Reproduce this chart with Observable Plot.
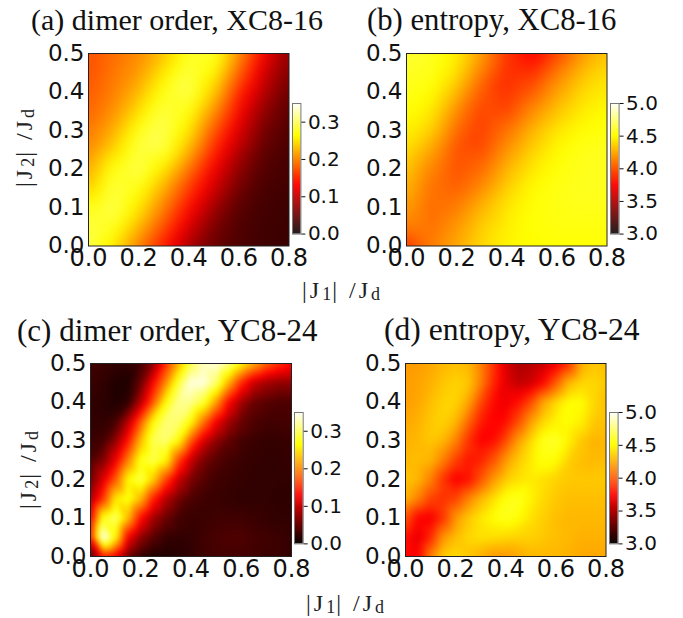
<!DOCTYPE html>
<html><head><meta charset="utf-8">
<script src="https://cdn.jsdelivr.net/npm/d3@7"></script>
<script src="https://cdn.jsdelivr.net/npm/@observablehq/plot@0.6"></script>
<style>
html,body{margin:0;padding:0;background:#fff;}
#page{position:relative;width:683px;height:618px;overflow:hidden;}
#page>svg{position:absolute;}
.title{position:absolute;font-family:"Liberation Serif",serif;color:#111;white-space:nowrap;line-height:1;}
.lab{position:absolute;font-family:"Liberation Serif",serif;font-size:24px;letter-spacing:3px;color:#222;white-space:nowrap;line-height:1;}
.lab sub{font-size:18px;vertical-align:baseline;position:relative;top:2px;letter-spacing:1px;}
.rot{transform-origin:left top;transform:rotate(-90deg);}
</style></head><body><div id="page"></div>
<script>
const xCoarse=[0,.1,.2,.3,.4,.5,.6,.7,.8];
const xFine=[0,.05,.1,.15,.2,.25,.3,.35,.4,.45,.5,.55,.6,.65,.7,.75,.8];
const yValues=[.5,.45,.4,.35,.3,.25,.2,.15,.1,.05,0];
const xTicks=[0,.2,.4,.6,.8];
const yTicks=[0,.1,.2,.3,.4,.5];
const dimerTicks=[0,.1,.2,.3];
const entropyTicks=[3,3.5,4,4.5,5];
const dimerXC=[
[.17,.185,.2,.23,.275,.28,.205,.128,.07],
[.17,.19,.21,.25,.285,.26,.18,.105,.06],
[.175,.195,.225,.27,.29,.235,.15,.09,.05],
[.18,.205,.245,.285,.27,.205,.13,.07,.04],
[.19,.22,.27,.29,.25,.175,.11,.055,.035],
[.2,.24,.285,.285,.225,.15,.09,.045,.032],
[.215,.27,.29,.25,.19,.125,.07,.038,.03],
[.235,.285,.27,.22,.16,.105,.055,.032,.028],
[.27,.29,.25,.195,.135,.08,.042,.03,.026],
[.285,.275,.225,.17,.11,.06,.036,.028,.025],
[.29,.25,.195,.14,.085,.05,.035,.028,.024]];
const entropyXC=[
[4.6,4.56,4.45,4.2,3.88,3.7,3.93,4.18,4.32],
[4.56,4.54,4.4,4.1,3.86,3.86,4.1,4.3,4.4],
[4.54,4.49,4.28,3.99,3.86,4.0,4.22,4.38,4.44],
[4.51,4.43,4.15,3.93,3.93,4.15,4.32,4.44,4.49],
[4.46,4.35,4.05,3.91,4.07,4.27,4.42,4.5,4.52],
[4.4,4.22,3.97,3.95,4.17,4.35,4.48,4.54,4.55],
[4.33,4.12,3.96,4.05,4.27,4.42,4.51,4.55,4.55],
[4.27,4.06,4.01,4.15,4.35,4.48,4.53,4.55,4.55],
[4.2,4.04,4.1,4.27,4.42,4.5,4.53,4.54,4.54],
[4.1,4.06,4.18,4.35,4.45,4.5,4.52,4.52,4.52],
[3.85,4.1,4.24,4.38,4.46,4.49,4.5,4.5,4.5]];
const dimerYC=[
[.03,.025,.02,.02,.03,.07,.15,.22,.29,.33,.34,.31,.26,.22,.18,.155,.13],
[.025,.02,.012,.01,.05,.13,.2,.28,.34,.34,.3,.22,.15,.1,.08,.07,.07],
[.02,.018,.012,.02,.09,.175,.26,.31,.31,.28,.21,.13,.08,.05,.04,.035,.035],
[.02,.02,.03,.09,.175,.26,.3,.3,.26,.19,.125,.08,.05,.035,.03,.03,.03],
[.025,.03,.07,.14,.225,.29,.3,.26,.175,.11,.07,.045,.03,.025,.022,.022,.025],
[.035,.06,.12,.195,.27,.29,.26,.165,.1,.06,.04,.03,.025,.022,.02,.02,.022],
[.05,.11,.175,.26,.29,.235,.165,.1,.06,.04,.028,.025,.022,.02,.02,.02,.02],
[.08,.155,.25,.27,.225,.145,.09,.055,.035,.028,.025,.022,.02,.02,.02,.018,.018],
[.12,.27,.3,.225,.135,.08,.05,.03,.025,.025,.028,.028,.028,.025,.022,.02,.02],
[.14,.35,.26,.125,.07,.04,.022,.02,.022,.028,.032,.035,.035,.03,.028,.025,.022],
[.03,.14,.12,.05,.02,.008,.01,.015,.02,.027,.03,.03,.03,.028,.025,.025,.022]];
const entropyYC=[
[4.2,4.2,4.23,4.28,4.3,4.28,4.12,3.88,3.62,3.48,3.5,3.55,3.67,3.85,4.25,4.33,4.3],
[4.2,4.22,4.26,4.32,4.36,4.33,4.12,3.85,3.65,3.54,3.58,3.74,4.0,4.28,4.38,4.38,4.33],
[4.2,4.23,4.3,4.36,4.36,4.23,3.95,3.76,3.68,3.76,3.95,4.23,4.38,4.5,4.5,4.38,4.3],
[4.23,4.26,4.33,4.36,4.28,4.05,3.82,3.73,3.76,3.95,4.2,4.38,4.46,4.5,4.46,4.33,4.3],
[4.26,4.28,4.33,4.28,4.12,3.88,3.72,3.76,3.95,4.2,4.38,4.55,4.58,4.46,4.33,4.26,4.28],
[4.28,4.3,4.28,4.12,3.92,3.78,3.82,3.97,4.18,4.33,4.43,4.52,4.5,4.36,4.3,4.28,4.3],
[4.33,4.28,4.12,3.88,3.7,3.76,3.97,4.18,4.33,4.4,4.43,4.4,4.36,4.33,4.33,4.33,4.33],
[4.28,4.12,3.92,3.86,3.92,4.12,4.28,4.4,4.52,4.55,4.46,4.38,4.33,4.3,4.3,4.3,4.3],
[4.0,3.72,3.68,3.88,4.18,4.33,4.43,4.5,4.55,4.5,4.41,4.35,4.3,4.28,4.28,4.28,4.28],
[3.78,3.64,3.84,4.18,4.3,4.38,4.41,4.4,4.38,4.36,4.36,4.33,4.3,4.28,4.26,4.26,4.26],
[3.75,3.7,4.12,4.36,4.4,4.33,4.26,4.18,4.18,4.23,4.28,4.28,4.28,4.26,4.23,4.23,4.23]];

const hotStops=[0,.365,.746,1];
const hotColors=["#0b0000","#ff0000","#ffff00","#ffffff"];
const hot=d3.scaleLinear().domain(hotStops).range(hotColors).interpolate(d3.interpolateRgb).clamp(true);

const page=document.getElementById("page");
function place(svg,l,t){svg.style.left=l+"px";svg.style.top=t+"px";svg.style.overflow="visible";
  svg.style.fontFamily="'DejaVu Sans'";
  svg.querySelectorAll("text").forEach(t=>{t.style.fontFamily="'DejaVu Sans'";t.style.fontVariant="normal";});
  page.appendChild(svg);}

function heat(grid,xs,domain,fx,fy,fw,fh,blur){
  const pts=grid.flatMap((row,j)=>row.map((v,i)=>({x:xs[i],y:yValues[j],v})));
  const mL=60,mT=10,mB=40,mR=10;
  const p=Plot.plot({
    width:fw+mL+mR,height:fh+mT+mB,marginLeft:mL,marginTop:mT,marginBottom:mB,marginRight:mR,
    style:{color:"#111",background:"transparent"},
    x:{domain:[0,.8],label:null},y:{domain:[0,.5],label:null},
    color:{type:"linear",domain,interpolate:hot},
    marks:[
      Plot.raster(pts,{x:"x",y:"y",fill:"v",interpolate:"barycentric",blur,pixelSize:1}),
      Plot.frame({stroke:"#222",strokeWidth:1}),
      Plot.axisX({ticks:xTicks,tickSize:0,tickPadding:3,fontSize:24,tickFormat:d3.format(".1f"),label:null}),
      Plot.axisY({ticks:yTicks,tickSize:0,tickPadding:4,fontSize:23,tickFormat:d3.format(".1f"),label:null})
    ]});
  place(p,fx-mL,fy-mT);
}
function bar(domain,ticks,bx,by,bw,bh){
  const mL=2,mT=10,mB=10,mR=50;
  const n=130,ramp=d3.range(n).map(i=>domain[0]+(domain[1]-domain[0])*i/n);
  const step=(domain[1]-domain[0])/n;
  const p=Plot.plot({
    width:bw+mL+mR,height:bh+mT+mB,marginLeft:mL,marginTop:mT,marginBottom:mB,marginRight:mR,
    style:{color:"#111",background:"transparent"},
    x:{domain:[0,1],axis:null},y:{domain,label:null},
    color:{type:"linear",domain,interpolate:hot},
    marks:[
      Plot.rect(ramp,{x1:0,x2:1,y1:d=>d,y2:d=>d+step*1.3,fill:d=>d}),
      Plot.frame({stroke:"#777",strokeWidth:1}),
      Plot.axisY({anchor:"right",ticks,tickSize:4,tickPadding:3,fontSize:20,tickFormat:d3.format(".1f"),label:null})
    ]});
  place(p,bx-mL,by-mT);
}
function title(t,x,y,s){const d=document.createElement("div");d.className="title";d.textContent=t;d.style.left=x+"px";d.style.top=y+"px";d.style.fontSize=s+"px";page.appendChild(d);}
function lab(html,x,y,rot){const d=document.createElement("div");d.className="lab"+(rot?" rot":"");d.innerHTML=html;d.style.left=x+"px";d.style.top=y+"px";page.appendChild(d);}

heat(dimerXC,xCoarse,[0,.35],88,53,200.5,192.5,6);
heat(entropyXC,xCoarse,[3,5],405.7,53,200.5,192.5,6);
heat(dimerYC,xFine,[0,.35],90,363.3,201,193,2);
heat(entropyYC,xFine,[3,5],404.7,363.3,200.5,193,3);
bar([0,.35],dimerTicks,292.3,102.7,8.4,130.6);
bar([3,5],entropyTicks,609.7,102.7,8.6,130.6);
bar([0,.35],dimerTicks,294.3,412.3,8.7,131.4);
bar([3,5],entropyTicks,608.7,412.3,8.6,131.4);
title("(a) dimer order, XC8-16",31,5,30);
title("(b) entropy, XC8-16",367,5,30.7);
title("(c) dimer order, YC8-24",17,315,31);
title("(d) entropy, YC8-24",384,314,31.6);
const yLabel="|J<sub>2</sub>| /J<sub>d</sub>";
const xLabel="|J<sub>1</sub>| /J<sub>d</sub>";
lab(yLabel,12,187,true);
lab(yLabel,16,509,true);
lab(xLabel,302,278,false);
lab(xLabel,306,591,false);
</script></body></html>
